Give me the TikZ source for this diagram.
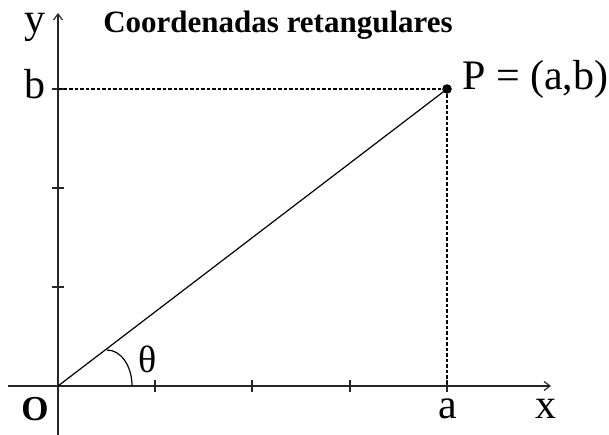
\documentclass[tikz,border=0pt]{standalone}
\usepackage{fontspec}
\setmainfont{Liberation Serif}
\usetikzlibrary{arrows.meta}
\tikzset{
  axis/.style={line width=1.8pt, color=black!85, -{Straight Barb[length=6pt,width=9pt,line width=1.2pt]}},
  tick/.style={line width=1.5pt, color=black!85},
  guide/.style={line width=1.3pt, dash pattern=on 3.5pt off 2pt},
  ray/.style={line width=1.2pt},
  lbl/.style={inner sep=0pt, anchor=base, font=\fontsize{42}{44}\selectfont},
}
\begin{document}
\begin{tikzpicture}[x=1pt,y=-1pt]
\useasboundingbox (0,0) rectangle (609,435);
% coordinates
\coordinate (O) at (58,386);
\coordinate (P) at (447,89);
\coordinate (xs) at (8,386);
\coordinate (xe) at (551,386);
\coordinate (ys) at (58,435);
\coordinate (ye) at (58,13);
\coordinate (B) at (58,89);
\coordinate (A) at (447,386);
\coordinate (arcA) at (107,350);
\coordinate (arcB) at (132,386);
% axes
\draw[axis] (xs) -- (xe);
\draw[axis] (ys) -- (ye);
% ticks
\foreach \tx in {155,252,350,447} \draw[tick] (\tx,380) -- (\tx,392);
\foreach \ty in {89,188,287} \draw[tick] (52,\ty) -- (64,\ty);
% guides
\draw[guide] (B) -- (P);
\draw[guide] (P) -- (A);
% ray
\draw[ray] (O) -- (P);
\fill (P) circle (4.8pt);
% angle
\draw[ray] (arcA) .. controls (121,350) and (132,366) .. (arcB);
% labels
\node[lbl] (ylab) at (35,33) {y};
\node[lbl] (blab) at (35,99) {b};
\node[lbl, font=\fontsize{35}{37}\selectfont\bfseries] (olab) at (35,420) {O};
\node[lbl, font=\fontsize{38}{40}\selectfont] (tlab) at (148,372) {θ};
\node[lbl] (alab) at (448,418) {a};
\node[lbl] (xlab) at (546,418) {x};
\node[lbl, anchor=base west] (plab) at (462,90) {P = (a,b)};
\node[lbl, font=\fontsize{31}{33}\selectfont\bfseries] (title) at (278,33) {Coordenadas retangulares};
\end{tikzpicture}
\end{document}
